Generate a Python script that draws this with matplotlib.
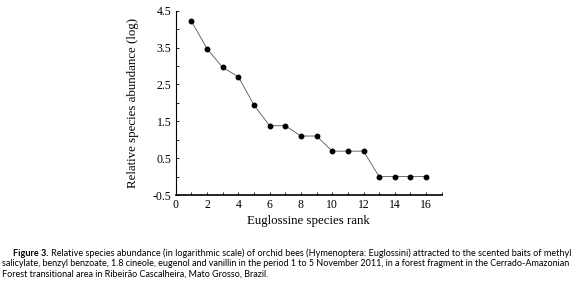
import numpy as np
import matplotlib.pyplot as plt
from matplotlib.ticker import MultipleLocator

# species rank and relative abundance (log scale)
rank = [1, 2, 3, 4, 5, 6, 7, 8, 9, 10, 11, 12, 13, 14, 15, 16]
abundance = [4.22, 3.47, 2.96, 2.71, 1.94, 1.38, 1.38, 1.10, 1.10,
             0.69, 0.69, 0.69, 0.0, 0.0, 0.0, 0.0]

x_ticks = [0, 2, 4, 6, 8, 10, 12, 14, 16]
y_ticks = [-0.5, 0.5, 1.5, 2.5, 3.5, 4.5]

caption_lines = [
    "Relative species abundance (in logarithmic scale) of orchid bees (Hymenoptera: Euglossini) "
    "attracted to the scented baits of methyl",
    "salicylate, benzyl benzoate, 1.8 cineole, eugenol and vanillin in the period 1 to 5 November 2011, "
    "in a forest fragment in the Cerrado-Amazonian",
    "Forest transitional area in Ribeirão Cascalheira, Mato Grosso, Brazil.",
]

plt.rcParams["axes.unicode_minus"] = False
serif = "Liberation Serif"

fig = plt.figure(figsize=(5.76, 2.81), dpi=100)
ax = fig.add_axes([0.305, 0.306, 0.462, 0.656])

ax.plot(rank, abundance, color="#555555", lw=0.6, marker="o", ms=3.2,
        mfc="black", mec="black")

ax.set_xlim(0, 17)
ax.set_ylim(-0.5, 4.5)
ax.set_xticks(x_ticks)
ax.set_yticks(y_ticks)
ax.xaxis.set_minor_locator(MultipleLocator(1))
ax.yaxis.set_minor_locator(MultipleLocator(0.5))
ax.tick_params(which="both", direction="in", length=2.5, width=0.6,
               labelsize=8.5, pad=3)
for lab in ax.get_xticklabels() + ax.get_yticklabels():
    lab.set_family(serif)

for side in ("top", "right"):
    ax.spines[side].set_visible(False)
ax.spines["left"].set_linewidth(0.8)
ax.spines["bottom"].set_linewidth(1.2)

ax.set_xlabel("Euglossine species rank", family=serif, fontsize=9.3, labelpad=3)
ax.set_ylabel("Relative species abundance (log)", family=serif, fontsize=9.3,
              labelpad=10)

# figure caption
cap_font = "Lato"
head = fig.text(13 / 576, 1 - 253 / 281, "Figure 3.", family=cap_font,
                fontsize=6.62, fontweight="bold", va="center", ha="left")
renderer = fig.canvas.get_renderer()
bb = head.get_window_extent(renderer)
fig.text((bb.x1 + 3) / 576, 1 - 253 / 281, caption_lines[0], family=cap_font,
         fontsize=6.62, va="center", ha="left")
fig.text(2 / 576, 1 - 264 / 281, caption_lines[1], family=cap_font,
         fontsize=6.5, va="center", ha="left")
fig.text(2 / 576, 1 - 274 / 281, caption_lines[2], family=cap_font,
         fontsize=6.5, va="center", ha="left")

fig.savefig("out.png", dpi=100)
